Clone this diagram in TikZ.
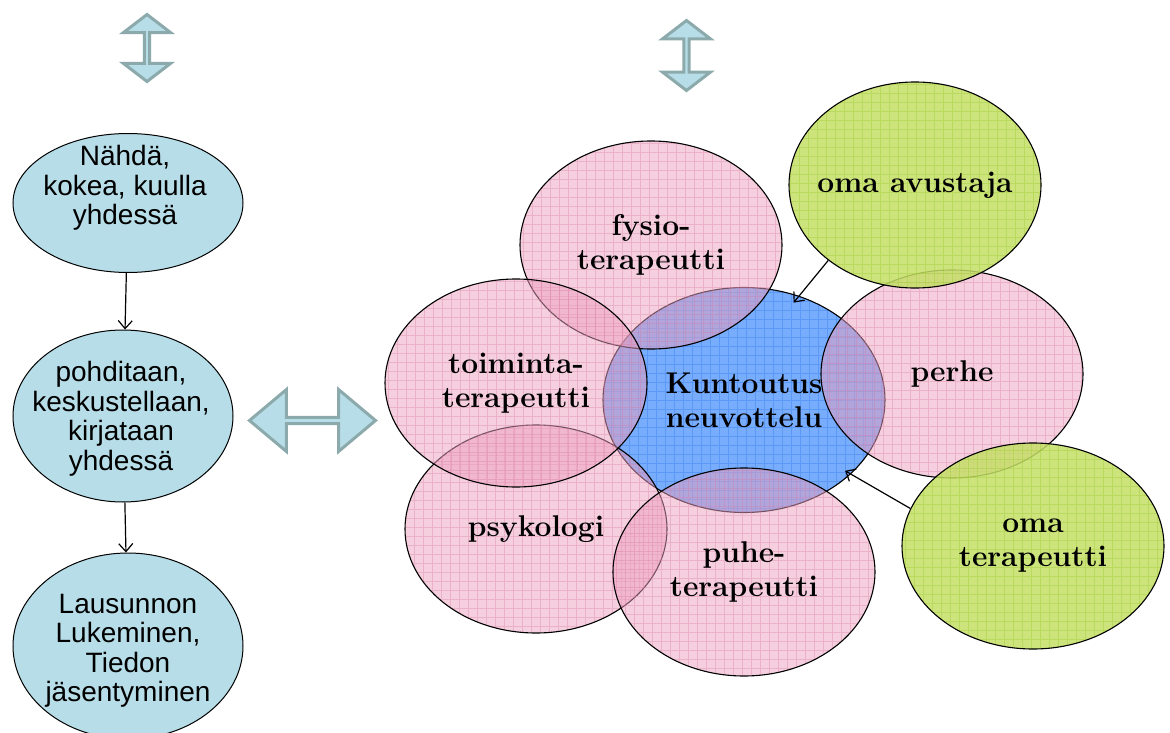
\documentclass[tikz,border=0pt]{standalone}
\usepackage{fontspec}
\newfontfamily\stepfont{Liberation Sans}
\usetikzlibrary{shapes, shapes.arrows, arrows.meta, calc}

\definecolor{lightteal}{RGB}{183,222,232}
\definecolor{arrowrim}{RGB}{140,170,172}
\definecolor{rosefill}{RGB}{235,160,190}
\definecolor{roseline}{RGB}{215,120,160}
\definecolor{bluefill}{RGB}{120,172,252}
\definecolor{blueline}{RGB}{40,115,235}
\definecolor{limefill}{RGB}{196,223,102}
\definecolor{limeline}{RGB}{150,200,40}

\begin{document}
\begin{tikzpicture}[x=1pt, y=-1pt,
    stepnode/.style={ellipse, draw, fill=lightteal, line width=1pt, inner sep=0pt},
    steptext/.style={font=\stepfont\fontsize{28}{29.5}\selectfont, align=center, inner sep=0pt},
    bubble/.style 2 args={ellipse, draw, line width=1.1pt, fill=#1, fill opacity=0.5, text opacity=1,
        minimum width=262pt, minimum height=208pt, inner sep=0pt, align=center,
        font=\bfseries\fontsize{30}{34}\selectfont,
        path picture={\draw[#2, draw opacity=0.35, line width=0.5pt, step=9pt]
            (path picture bounding box.south west) grid (path picture bounding box.north east);}},
    twoway/.style={double arrow, draw=arrowrim, line width=3pt, fill=lightteal, inner sep=0pt},
    >={Straight Barb[length=8pt, width=14pt]}]
        \useasboundingbox (0,0) rectangle (1170,733);

        % left column
        \node[stepnode, minimum width=230pt, minimum height=139pt] (see) at (128,203) {};
        \node[stepnode, minimum width=220pt, minimum height=172pt] (talk) at (123,416) {};
        \node[stepnode, minimum width=230pt, minimum height=186pt] (read) at (128,646) {};
        \node[steptext] (seetext) at (125,188) {Nähdä,\\kokea, kuulla\\yhdessä};
        \node[steptext] (talktext) at (121,419) {pohditaan,\\keskustellaan,\\kirjataan\\yhdessä};
        \node[steptext] (readtext) at (128,651) {Lausunnon\\Lukeminen,\\Tiedon\\jäsentyminen};
        \draw[->, line width=1.2pt] (see) -- (talk);
        \draw[->, line width=1.2pt] (talk) -- (read);

        % two-way arrows
        \node[twoway, rotate=90, minimum height=67pt, minimum width=47pt, double arrow head extend=12.5pt,
            double arrow tip angle=105] (upleft) at (147,48) {};
        \node[twoway, rotate=90, minimum height=70pt, minimum width=48pt, double arrow head extend=12.5pt,
            double arrow tip angle=105] (upright) at (686.5,55.5) {};
        \node[twoway, minimum height=126pt, minimum width=62pt, double arrow head extend=13.5pt,
            double arrow tip angle=80] (across) at (312.5,420.5) {};

        % circle of helpers
        \node[bubble={bluefill}{blueline}, fill opacity=1, minimum width=282pt, minimum height=225pt] (meeting) at (744,400) {Kuntoutus\\neuvottelu};
        \node[bubble={rosefill}{roseline}] (psych) at (536,529) {psykologi};
        \node[bubble={rosefill}{roseline}] (physio) at (651,245) {fysio-\\terapeutti};
        \node[bubble={rosefill}{roseline}] (occup) at (516,383) {toiminta-\\terapeutti};
        \node[bubble={rosefill}{roseline}] (speech) at (744,572) {puhe-\\terapeutti};
        \node[bubble={rosefill}{roseline}] (family) at (952,374) {perhe};
        \node[bubble={limefill}{limeline}, fill opacity=0.85, minimum width=252pt, minimum height=206pt,
            inner xsep=-10pt] (aide) at (915,185) {oma avustaja};
        \node[bubble={limefill}{limeline}, fill opacity=0.85, minimum height=206pt] (owntherap) at (1033,546) {oma\\terapeutti};

        \draw[->, line width=1.2pt] (aide.221) -- ($(meeting.center)!0.93!(meeting.63)$);
        \draw[->, line width=1.2pt] (owntherap.163) -- ($(meeting.center)!0.95!(meeting.325)$);
    \end{tikzpicture}
\end{document}
